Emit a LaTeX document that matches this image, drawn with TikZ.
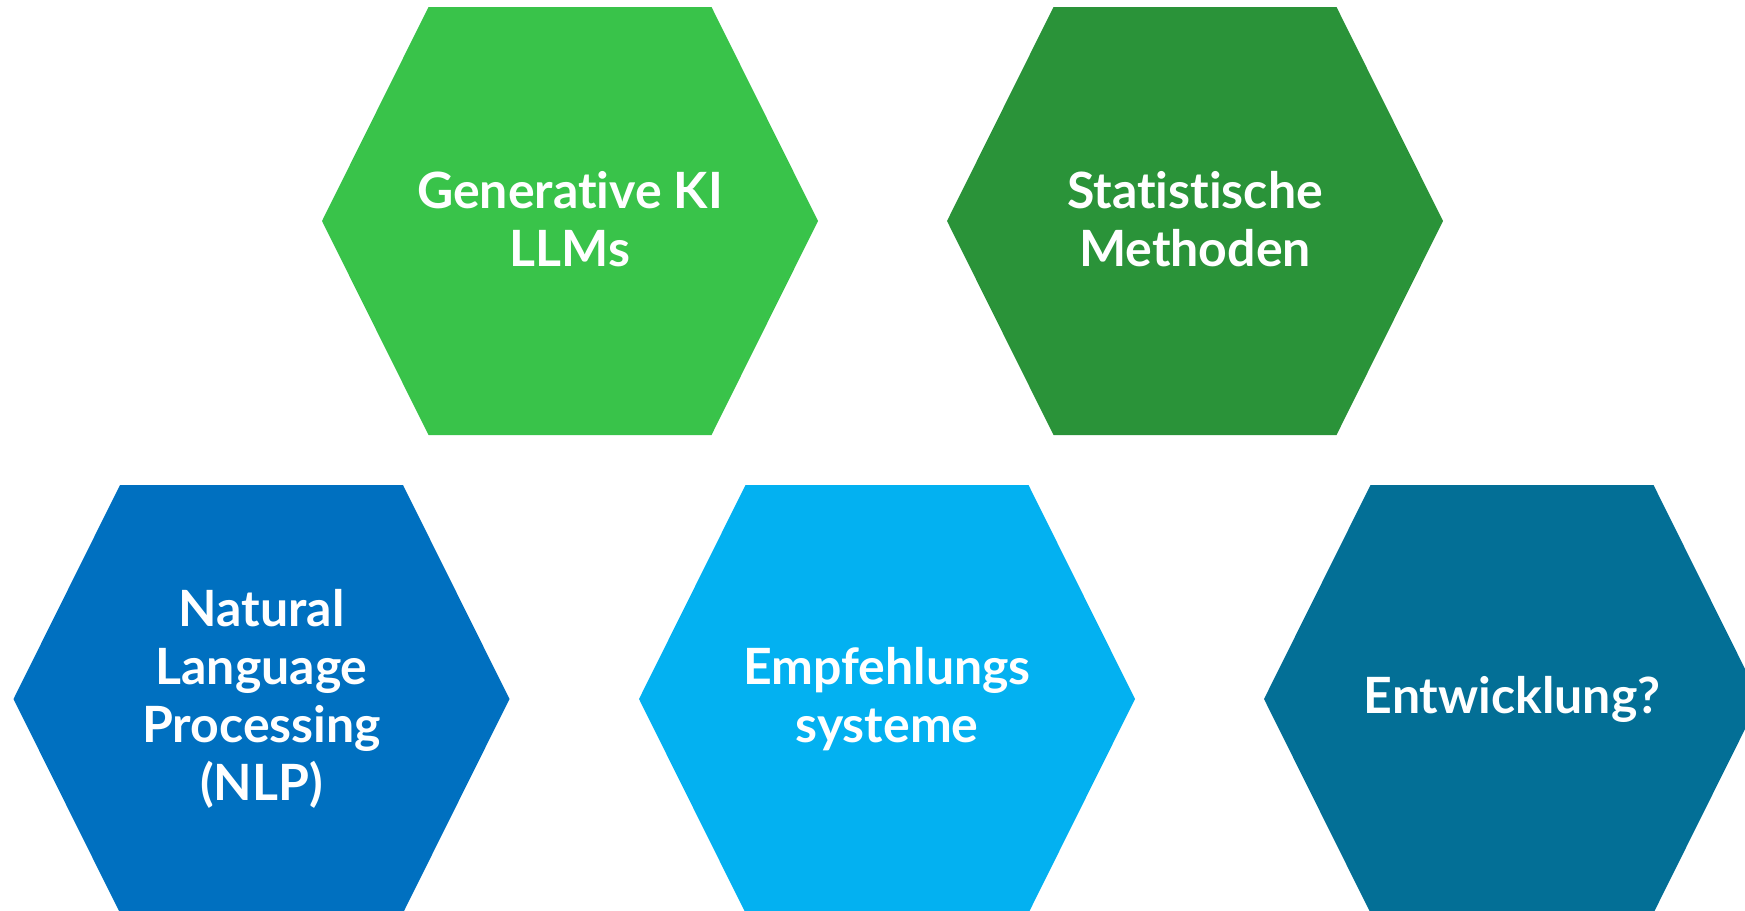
\documentclass[tikz,border=0pt]{standalone}
\usepackage{fontspec}
\setmainfont{Lato}[Ligatures={NoCommon,NoRare,NoDiscretionary}]
\definecolor{hexA}{HTML}{39C34A}
\definecolor{hexB}{HTML}{2A9339}
\definecolor{hexC}{HTML}{0070C0}
\definecolor{hexD}{HTML}{03B1F1}
\definecolor{hexE}{HTML}{036F96}
\tikzset{
  hexlabel/.style={text=white, align=center, inner sep=0pt,
    font=\fontsize{50}{58}\selectfont\bfseries},
  hexfill/.style={fill=#1},
}
\newcommand{\hexagonat}[2]{%
  \fill[hexfill=#2] ($(#1)+(-248,0)$) -- ++(106.5,-214) -- ++(283,0) -- ++(106.5,214)
     -- ++(-106.5,214) -- ++(-283,0) -- cycle;}
\usetikzlibrary{calc}
\begin{document}
\begin{tikzpicture}[x=1pt,y=-1pt]
\useasboundingbox (0,0) rectangle (1745,910);
\clip (0,0) rectangle (1745,910);
\coordinate (c1) at (570,221);
\coordinate (c2) at (1195,221);
\coordinate (c3) at (261.5,699);
\coordinate (c4) at (887,699);
\coordinate (c5) at (1512,699);
\hexagonat{c1}{hexA}
\hexagonat{c2}{hexB}
\hexagonat{c3}{hexC}
\hexagonat{c4}{hexD}
\hexagonat{c5}{hexE}
\node[hexlabel] (gen) at ($(c1)+(0,-2)$) {Generative KI\\LLMs};
\node[hexlabel] (stat) at ($(c2)+(0,-2)$) {Statistische\\Methoden};
\node[hexlabel] (nlp) at ($(c3)+(0,0)$) {Natural\\Language\\Processing\\(NLP)};
\node[hexlabel] (emp) at ($(c4)+(0,0)$) {Empfehlungs\\systeme};
\node[hexlabel] (ent) at ($(c5)+(0,0)$) {Entwicklung?};
\end{tikzpicture}
\end{document}
